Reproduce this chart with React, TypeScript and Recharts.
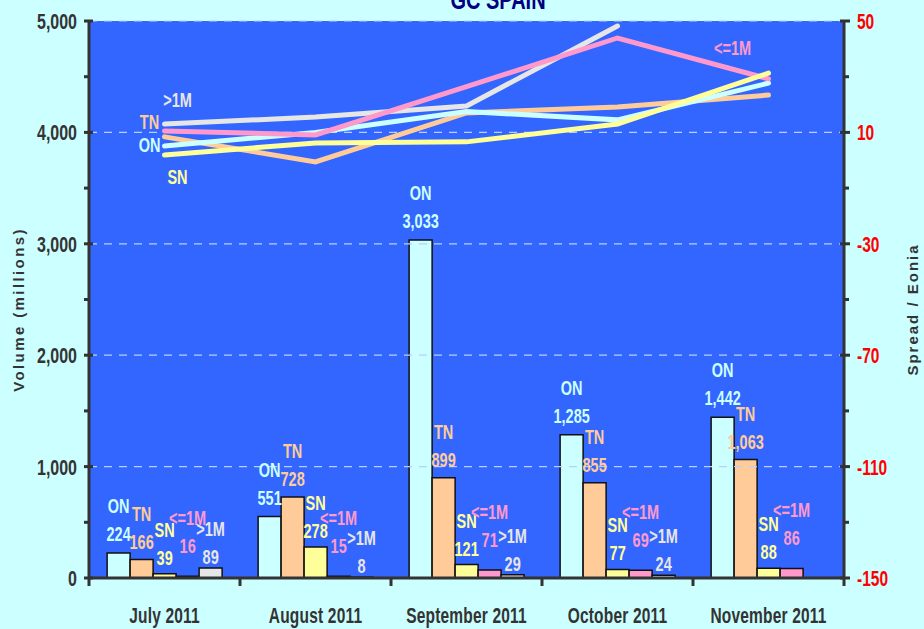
import React from "react";
import {
  ComposedChart,
  Bar,
  Line,
  XAxis,
  YAxis,
  ReferenceLine,
  ReferenceArea,
  LabelList,
} from "recharts";

const months = ["July 2011", "August 2011", "September 2011", "October 2011", "November 2011"];

// Volumes (millions)
const volON = [224, 551, 3033, 1285, 1442];
const volTN = [166, 728, 899, 855, 1063];
const volSN = [39, 278, 121, 77, 88];
const volLE1M = [16, 15, 71, 69, 86];
const volGT1M: (number | null)[] = [89, 8, 29, 24, null];

// Spread / Eonia (bp)
const sprON = [5.1, 10, 17.5, 14.5, 27.7];
const sprTN = [8.4, -0.6, 17, 19.1, 23.4];
const sprSN = [1.9, 6.2, 6.6, 13, 31.3];
const sprLE1M = [10.5, 9.1, 26.4, 43.9, 29.2];
const sprGT1M: (number | null)[] = [13, 15.5, 19.5, 48.2, null];

const leftTicks = [0, 500, 1000, 1500, 2000, 2500, 3000, 3500, 4000, 4500, 5000];
const rightTicks = [-150, -130, -110, -90, -70, -50, -30, -10, 10, 30, 50];
const gridValues = [1000, 2000, 3000, 4000, 5000];

const data = months.map((m, i) => ({
  month: m,
  vON: volON[i],
  vTN: volTN[i],
  vSN: volSN[i],
  vLE: volLE1M[i],
  vGT: volGT1M[i],
  sON: sprON[i],
  sTN: sprTN[i],
  sSN: sprSN[i],
  sLE: sprLE1M[i],
  sGT: sprGT1M[i],
}));

const FONT = "'Liberation Sans', Arial, Helvetica, sans-serif";
const AXIS = "#333333";
const SY = 1.42;

const C_ON = "#ccffff";
const C_TN = "#ffcc99";
const C_SN = "#ffff99";
const C_LE = "#ff99cc";
const C_GT = "#e6e6e6";

const fmt = (v: number) => v.toLocaleString("en-US");

// Text vertically stretched like the reference's tall glyphs
const ST = ({
  x,
  y,
  fs,
  fill,
  anchor = "middle",
  ls = 0,
  children,
}: {
  x: number;
  y: number;
  fs: number;
  fill: string;
  anchor?: string;
  ls?: number;
  children: React.ReactNode;
}) => (
  <text
    transform={`translate(${x} ${y}) scale(1 ${SY})`}
    x={0}
    y={0}
    textAnchor={anchor as any}
    fill={fill}
    fontFamily={FONT}
    fontWeight="bold"
    fontSize={fs}
    letterSpacing={ls}
  >
    {children}
  </text>
);

const barLabel = (name: string, color: string, gap: number) => (props: any) => {
  const { x, y, width, value } = props;
  if (value == null || x == null) return null;
  const cx = Number(x) + Number(width) / 2;
  const vy = Number(y) - gap + 7;
  return (
    <g>
      <ST x={cx} y={vy} fs={14.5} fill={color}>
        {fmt(Number(value))}
      </ST>
      <ST x={cx} y={vy - 28} fs={14.5} fill={color}>
        {name}
      </ST>
    </g>
  );
};

const lineLabel = (name: string, color: string, idx: number, dx: number, dy: number) => (props: any) => {
  const { x, y, index } = props;
  if (index !== idx || x == null) return null;
  return (
    <ST x={Number(x) + dx} y={Number(y) + dy + 7} fs={14.5} fill={color}>
      {name}
    </ST>
  );
};

const LeftTick = (props: any) => {
  const { x, y, payload } = props;
  const v = payload.value;
  const major = v % 1000 === 0;
  return (
    <g>
      {major ? (
        <line x1={x - 5} x2={x + 4} y1={y} y2={y} stroke={AXIS} strokeWidth={3} />
      ) : (
        <line x1={x - 5} x2={x} y1={y} y2={y} stroke={AXIS} strokeWidth={3} />
      )}
      {major && (
        <ST x={x - 12} y={y + 8} fs={16} fill={AXIS} anchor="end">
          {fmt(v)}
        </ST>
      )}
    </g>
  );
};

const RightTick = (props: any) => {
  const { x, y, payload } = props;
  const v = payload.value;
  const major = (v + 150) % 40 === 0;
  return (
    <g>
      {major ? (
        <line x1={x - 4} x2={x + 6} y1={y} y2={y} stroke={AXIS} strokeWidth={3} />
      ) : (
        <line x1={x} x2={x + 5} y1={y} y2={y} stroke={AXIS} strokeWidth={3} />
      )}
      {major && (
        <ST x={x + 13} y={y + 8} fs={15.5} fill="#ff0000" anchor="start">
          {v}
        </ST>
      )}
    </g>
  );
};

const BottomTick = (props: any) => {
  const { x, y, payload, index, visibleTicksCount } = props;
  const off = payload.offset || 0;
  return (
    <g>
      <line x1={x - off} x2={x - off} y1={y} y2={y + 8} stroke={AXIS} strokeWidth={3} />
      {index === visibleTicksCount - 1 && (
        <line x1={x + off} x2={x + off} y1={y} y2={y + 8} stroke={AXIS} strokeWidth={3} />
      )}
      <ST x={x} y={y + 45} fs={15.5} fill={AXIS} ls={0.2}>
        {payload.value}
      </ST>
    </g>
  );
};

const leftTitle = (props: any) => {
  const vb = props.viewBox || {};
  const cx = (vb.x ?? 0) + 18;
  const cy = (vb.y ?? 0) + (vb.height ?? 0) / 2 + 10;
  return (
    <text
      x={cx}
      y={cy}
      transform={`rotate(-90, ${cx}, ${cy})`}
      textAnchor="middle"
      dominantBaseline="central"
      fill={AXIS}
      fontFamily={FONT}
      fontWeight="bold"
      fontSize={15}
      letterSpacing={2.4}
    >
      Volume (millions)
    </text>
  );
};

const rightTitle = (props: any) => {
  const vb = props.viewBox || {};
  const cx = (vb.x ?? 0) + 68;
  const cy = (vb.y ?? 0) + (vb.height ?? 0) / 2 + 10;
  return (
    <text
      x={cx}
      y={cy}
      transform={`rotate(-90, ${cx}, ${cy})`}
      textAnchor="middle"
      dominantBaseline="central"
      fill={AXIS}
      fontFamily={FONT}
      fontWeight="bold"
      fontSize={15}
      letterSpacing={2}
    >
      Spread / Eonia
    </text>
  );
};

export default function App() {
  return (
    <div
      style={{
        position: "absolute",
        left: 0,
        top: 0,
        width: 924,
        height: 629,
        background: "#ccffff",
        overflow: "hidden",
      }}
    >
      <ComposedChart
        width={924}
        height={629}
        data={data}
        margin={{ top: 21, right: 0, bottom: 0, left: 0 }}
        barCategoryGap="12%"
        barGap={0}
      >
        <XAxis
          dataKey="month"
          height={51}
          axisLine={{ stroke: AXIS, strokeWidth: 3 }}
          tickLine={false}
          tickSize={0}
          tickMargin={0}
          interval={0}
          tick={<BottomTick />}
        />
        <YAxis
          yAxisId="left"
          orientation="left"
          width={89}
          domain={[0, 5000]}
          ticks={leftTicks}
          interval={0}
          axisLine={{ stroke: AXIS, strokeWidth: 3 }}
          tickLine={false}
          tickSize={0}
          tickMargin={0}
          tick={<LeftTick />}
          label={{ content: leftTitle }}
        />
        <YAxis
          yAxisId="right"
          orientation="right"
          width={80}
          domain={[-150, 50]}
          ticks={rightTicks}
          interval={0}
          axisLine={{ stroke: AXIS, strokeWidth: 3 }}
          tickLine={false}
          tickSize={0}
          tickMargin={0}
          tick={<RightTick />}
          label={{ content: rightTitle }}
        />
        <ReferenceArea yAxisId="left" y1={0} y2={5000} fill="#3366ff" fillOpacity={1} stroke="none" ifOverflow="extendDomain" />
        {gridValues.map((g) => (
          <ReferenceLine key={g} yAxisId="left" y={g} stroke="#b8d0ff" strokeWidth={1.2} strokeDasharray="8 7" />
        ))}

        <Bar yAxisId="left" dataKey="vON" fill={C_ON} stroke="#111" strokeWidth={1.5} isAnimationActive={false}>
          <LabelList dataKey="vON" content={barLabel("ON", C_ON, 19)} />
        </Bar>
        <Bar yAxisId="left" dataKey="vTN" fill={C_TN} stroke="#111" strokeWidth={1.5} isAnimationActive={false}>
          <LabelList dataKey="vTN" content={barLabel("TN", C_TN, 18)} />
        </Bar>
        <Bar yAxisId="left" dataKey="vSN" fill={C_SN} stroke="#111" strokeWidth={1.5} isAnimationActive={false}>
          <LabelList dataKey="vSN" content={barLabel("SN", C_SN, 16)} />
        </Bar>
        <Bar yAxisId="left" dataKey="vLE" fill={C_LE} stroke="#111" strokeWidth={1.5} isAnimationActive={false}>
          <LabelList dataKey="vLE" content={barLabel("<=1M", C_LE, 30)} />
        </Bar>
        <Bar yAxisId="left" dataKey="vGT" fill={C_GT} stroke="#111" strokeWidth={1.5} isAnimationActive={false}>
          <LabelList dataKey="vGT" content={barLabel(">1M", C_GT, 11)} />
        </Bar>

        <Line yAxisId="right" dataKey="sGT" stroke={C_GT} strokeWidth={5} strokeLinecap="round" dot={false} isAnimationActive={false}>
          <LabelList dataKey="sGT" content={lineLabel(">1M", C_GT, 0, 13, -24)} />
        </Line>
        <Line yAxisId="right" dataKey="sTN" stroke={C_TN} strokeWidth={5} strokeLinecap="round" dot={false} isAnimationActive={false}>
          <LabelList dataKey="sTN" content={lineLabel("TN", C_TN, 0, -15, -15)} />
        </Line>
        <Line yAxisId="right" dataKey="sON" stroke={C_ON} strokeWidth={5} strokeLinecap="round" dot={false} isAnimationActive={false}>
          <LabelList dataKey="sON" content={lineLabel("ON", C_ON, 0, -15, -1)} />
        </Line>
        <Line yAxisId="right" dataKey="sLE" stroke={C_LE} strokeWidth={5} strokeLinecap="round" dot={false} isAnimationActive={false}>
          <LabelList dataKey="sLE" content={lineLabel("<=1M", C_LE, 4, -36, -31)} />
        </Line>
        <Line yAxisId="right" dataKey="sSN" stroke={C_SN} strokeWidth={5} strokeLinecap="round" dot={false} isAnimationActive={false}>
          <LabelList dataKey="sSN" content={lineLabel("SN", C_SN, 0, 13, 22)} />
        </Line>
      </ComposedChart>
      <svg
        width={924}
        height={30}
        style={{ position: "absolute", left: 0, top: 0, pointerEvents: "none", overflow: "visible" }}
      >
        <ST x={498} y={9} fs={20} fill="#000080">
          GC SPAIN
        </ST>
      </svg>
    </div>
  );
}
